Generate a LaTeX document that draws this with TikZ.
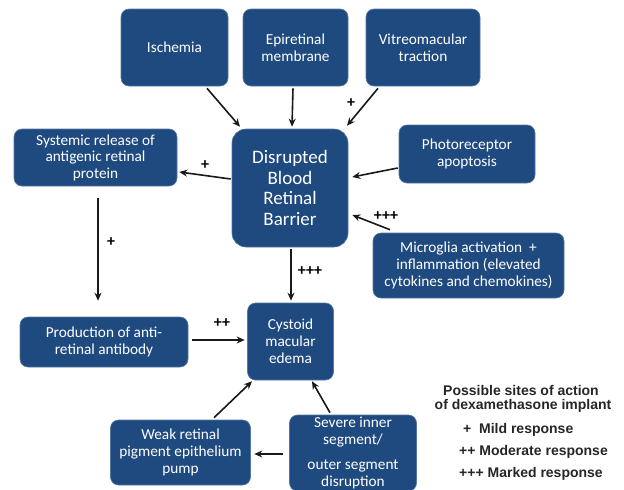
\documentclass[tikz,border=0pt]{standalone}
\usepackage{fontspec}
\setmainfont{Carlito}
\newfontfamily\legendfont{Liberation Sans}
\usetikzlibrary{arrows.meta}
\definecolor{boxblue}{HTML}{1F4A80}
\tikzset{
  box/.style={fill=boxblue, draw=boxblue!75!white, line width=0.6pt, rounded corners=8pt,
    text=white, align=center, inner sep=0pt, font=\fontsize{15.3}{17}\selectfont},
  arr/.style={draw=black!90, line width=1.6pt, -{Stealth[length=8pt,width=7pt]}},
  plus/.style={font=\bfseries\fontsize{16}{16}\selectfont, inner sep=0pt},
  legend/.style={font=\legendfont\bfseries\fontsize{14}{14}\selectfont, inner sep=0pt, text=black!85}
}
\begin{document}
\begin{tikzpicture}[x=1pt,y=-1pt]
\useasboundingbox (0,0) rectangle (624,490);
% boxes
\node[box, minimum width=107pt, minimum height=77pt] (isch) at (174.5,47.5) {Ischemia};
\node[box, minimum width=105pt, minimum height=77pt] (epi) at (295.5,47.5) {Epiretinal\\membrane};
\node[box, minimum width=114pt, minimum height=77pt] (vit) at (423,47.5) {Vitreomacular\\traction};
\node[box, minimum width=163pt, minimum height=57pt, font=\fontsize{15.3}{16.5}\selectfont] (sys) at (95.5,157.5) {Systemic release of\\antigenic retinal\\protein};
\node[box, minimum width=116pt, minimum height=118pt, rounded corners=14pt,
  font=\fontsize{19}{20.5}\selectfont] (dbrb) at (290,188) {Disrupted\\Blood\\Retinal\\Barrier};
\node[box, minimum width=136pt, minimum height=58pt] (photo) at (467,154) {Photoreceptor\\apoptosis};
\node[box, minimum width=191pt, minimum height=65pt] (micro) at (468.5,265.5) {Microglia activation\ \ +\\inflammation (elevated\\cytokines and chemokines)};
\node[box, minimum width=168pt, minimum height=50pt] (prod) at (104,342) {Production of anti-\\retinal antibody};
\node[box, minimum width=86pt, minimum height=77pt] (cme) at (290.5,341.5) {Cystoid\\macular\\edema};
\node[box, minimum width=140pt, minimum height=65pt] (weak) at (180.5,452.5) {Weak retinal\\pigment epithelium\\pump};
\node[box, minimum width=127pt, minimum height=76pt] (sev) at (353,453) {Severe inner\\segment/\\[8pt]outer segment\\disruption};
% connectors
\draw[arr] ([xshift=32.5pt,yshift=-2pt]isch.south) -- ([xshift=-50pt,yshift=2pt]dbrb.north);
\draw[arr] ([xshift=-2.5pt,yshift=-2pt]epi.south) -- ([xshift=2pt,yshift=2pt]dbrb.north);
\draw[arr] ([xshift=-45pt,yshift=-2pt]vit.south) -- ([xshift=57pt,yshift=3pt]dbrb.north);
\draw[arr] ([xshift=-1pt,yshift=9pt]dbrb.west) -- ([xshift=2pt,yshift=-14.5pt]sys.east);
\draw[arr] ([xshift=-1pt,yshift=-14pt]photo.west) -- ([xshift=4pt,yshift=11pt]dbrb.east);
\draw[arr] ([xshift=-78.5pt,yshift=3pt]micro.north) -- ([xshift=4pt,yshift=-27pt]dbrb.east);
\draw[arr] ([xshift=2.5pt,yshift=-12pt]sys.south) -- ([xshift=-6pt,yshift=16pt]prod.north);
\draw[arr] ([xshift=1pt,yshift=-2pt]dbrb.south) -- ([xshift=0.5pt,yshift=2pt]cme.north);
\draw[arr] ([xshift=4pt,yshift=2pt]prod.east) -- ([xshift=-2.5pt,yshift=1.5pt]cme.west);
\draw[arr] ([xshift=33.5pt,yshift=2pt]weak.north) -- ([xshift=-38.5pt,yshift=-1pt]cme.south);
\draw[arr] ([xshift=-23pt,yshift=2pt]sev.north) -- ([xshift=21.5pt,yshift=-1pt]cme.south);
\draw[arr] ([xshift=-6.5pt,yshift=-1pt]sev.west) -- ([xshift=3.5pt,yshift=-1.5pt]weak.east);
% response labels
\node[plus] (l1) at (351,103) {+};
\node[plus] (l2) at (205,165) {+};
\node[plus] (l3) at (386,216) {+++};
\node[plus] (l4) at (111,242) {+};
\node[plus] (l5) at (310,271) {+++};
\node[plus] (l6) at (222,323) {++};
% legend
\node[legend] (lg1) at (521,390) {Possible sites of action};
\node[legend] (lg2) at (523,406) {of dexamethasone implant};
\node[legend, anchor=west] (lg3) at (463,430) {+\ \ Mild response};
\node[legend, anchor=west] (lg4) at (459,452) {++ Moderate response};
\node[legend, anchor=west] (lg5) at (459,474) {+++ Marked response};
\end{tikzpicture}
\end{document}
